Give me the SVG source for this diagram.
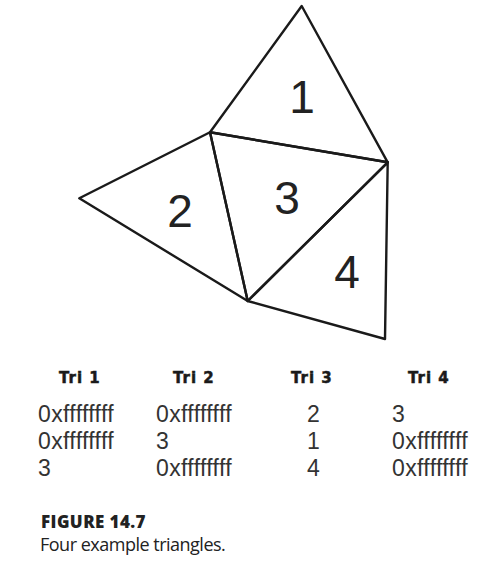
<svg xmlns="http://www.w3.org/2000/svg" width="485" height="563" viewBox="0 0 485 563">
<style>
.tri{fill:none;stroke:#1a1a1a;stroke-width:2.4;stroke-linejoin:round}
.lbl{font-family:"Liberation Sans",Arial,sans-serif;font-size:46px;fill:#222;text-anchor:middle}
.hdr{font-family:"DejaVu Sans",sans-serif;font-weight:bold;font-size:15px;fill:#1a1a1a;stroke:#1a1a1a;stroke-width:0.5px;letter-spacing:1px}
.val{font-family:"Liberation Sans",Arial,sans-serif;font-size:23px;fill:#333;letter-spacing:0.35px}
.cap1{font-family:"Open Sans",sans-serif;font-weight:800;font-size:17px;fill:#222;letter-spacing:0.4px}
.cap2{font-family:"Open Sans",sans-serif;font-size:18px;fill:#222;letter-spacing:-0.5px}
</style>
<rect width="485" height="563" fill="#fff"/>
<g id="connectors">
</g>
<g id="tri1">
<polygon class="tri" points="301.7,6 210,132.3 387.7,162.3"/>
<text class="lbl" x="302" y="113">1</text>
</g>
<g id="tri2">
<polygon class="tri" points="79.3,198.3 210,132.3 247.7,301"/>
<text class="lbl" x="180" y="227">2</text>
</g>
<g id="tri3">
<polygon class="tri" points="210,132.3 387.7,162.3 247.7,301"/>
<text class="lbl" x="287" y="214">3</text>
</g>
<g id="tri4">
<polygon class="tri" points="387.7,162.3 247.7,301 385,339"/>
<text class="lbl" x="347" y="288">4</text>
</g>
<g id="table">
<text class="hdr" x="59" y="383">Tri 1</text>
<text class="hdr" x="173" y="383">Tri 2</text>
<text class="hdr" x="291" y="383">Tri 3</text>
<text class="hdr" x="408" y="383">Tri 4</text>
<text class="val" x="38" y="422">0xffffffff</text>
<text class="val" x="38" y="449">0xffffffff</text>
<text class="val" x="38" y="476">3</text>
<text class="val" x="156" y="422">0xffffffff</text>
<text class="val" x="156" y="449">3</text>
<text class="val" x="156" y="476">0xffffffff</text>
<text class="val" x="307" y="422">2</text>
<text class="val" x="307" y="449">1</text>
<text class="val" x="307" y="476">4</text>
<text class="val" x="392" y="422">3</text>
<text class="val" x="392" y="449">0xffffffff</text>
<text class="val" x="392" y="476">0xffffffff</text>
</g>
<g id="caption">
<text class="cap1" x="41" y="528">FIGURE 14.7</text>
<text class="cap2" x="40" y="551">Four example triangles.</text>
</g>
</svg>
